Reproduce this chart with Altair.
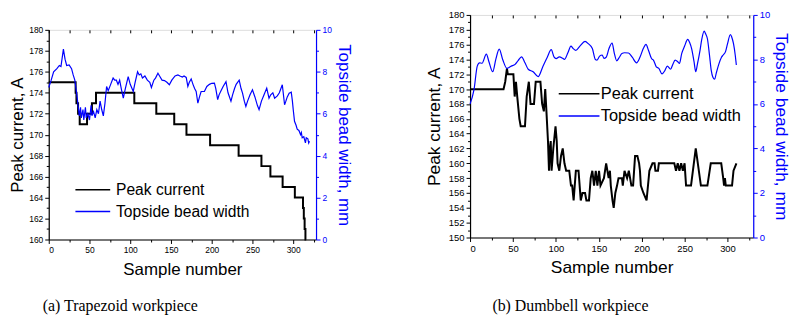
import altair as alt
import pandas as pd

series = ["Peak current", "Topside bead width"]
captions = ["(a) Trapezoid workpiece", "(b) Dumbbell workpiece"]

# ---------- panel (a): (sample, value) ----------
a_cur = [(0, 175), (33, 174), (34, 173), (36, 172), (38, 171), (47, 172), (53, 173), (58, 174),
         (105, 173), (132, 172), (154, 171), (169, 170), (198, 169), (233, 168), (261, 167),
         (272, 166), (287, 165), (302, 164), (312, 163), (313, 162), (314, 161), (315, 160), (316, 160)]

a_wid = [(0, 7.25), (3, 7.6), (6, 8.0), (10, 8.15), (13, 8.3), (15, 8.25), (18, 9.08), (20, 8.6),
         (22, 8.3), (25, 8.33), (28, 8.15), (30, 7.85), (32, 7.6), (34.5, 6.9), (36, 6.4), (37.5, 5.9),
         (39, 6.3), (40, 5.8), (42, 6.2), (43, 5.7), (45, 6.3), (46, 5.8), (48, 6.0), (50, 5.7),
         (52, 6.4), (53, 5.9), (55, 6.1), (57, 5.8), (59, 6.2), (61, 6.0), (63, 6.6), (65, 6.2),
         (67, 5.9), (69, 6.5), (71, 7.3), (73, 7.1), (76, 7.4), (79, 7.7), (81, 7.6), (83, 7.6),
         (85, 7.4), (87, 7.6), (89, 7.2), (91.5, 6.74), (94, 7.2), (97.5, 7.77), (100, 7.4),
         (103.7, 7.06), (106, 7.5), (109, 8.0), (111, 7.85), (113, 7.9), (115, 7.7), (118, 7.8),
         (121, 7.6), (124, 7.5), (126, 7.25), (129, 7.6), (131, 7.7), (134, 7.93), (136, 7.8),
         (139, 7.6), (142, 7.58), (145, 7.5), (148, 7.38), (151, 7.6), (155, 7.8), (158.5, 7.85),
         (161, 7.8), (164, 7.75), (166, 7.8), (168.7, 7.73), (170.7, 7.3), (172.5, 7.5), (174.8, 7.66),
         (177, 7.4), (179, 7.2), (180.9, 7.06), (183, 6.5), (185, 6.8), (187, 7.06), (191, 7.06),
         (194, 7.3), (197.2, 7.4), (200, 7.45), (203.3, 7.46), (205, 7.2), (207.3, 6.67), (209, 6.9),
         (211.4, 7.1), (214, 7.3), (217.5, 7.53), (220, 7.0), (223.6, 6.6), (225.6, 6.9), (228, 7.2),
         (230, 7.4), (233.7, 7.6), (236, 7.2), (237.8, 6.98), (240, 6.6), (241.9, 6.35), (244, 6.6),
         (247, 6.9), (250, 7.14), (253, 6.8), (256, 6.4), (258.1, 6.19), (261, 6.6), (264.2, 6.9),
         (267.5, 7.22), (270.3, 6.74), (272.4, 6.9), (275, 7.0), (277.2, 6.74), (280.5, 6.85),
         (283, 7.0), (286.6, 7.38), (289.4, 6.43), (291, 6.6), (292.7, 6.8), (295, 6.98), (297.6, 7.03),
         (299, 6.6), (300, 6.2), (301.6, 5.64), (303.5, 5.45), (304.9, 5.26), (307, 5.2), (309, 5.0),
         (310, 5.1), (311, 4.85), (313, 4.9), (315, 4.61), (316, 4.85), (318, 4.8), (319, 4.6), (320, 4.69)]

# ---------- panel (b): (sample, value) ----------
b_cur = [(0, 170), (39, 170), (41, 171), (43, 172.8), (44, 172), (50.5, 172), (52, 169), (53.5, 171),
         (55, 169), (57.5, 166), (59, 165), (64, 165), (66, 169), (68.5, 171), (70.5, 168), (74.5, 168),
         (76.5, 171), (82, 171), (84, 168), (86, 167), (87.6, 170), (89, 167), (90.8, 163), (92, 159),
         (93, 162), (94, 163), (95, 159), (97, 162), (99.6, 165), (101, 163), (102, 160), (104, 159),
         (106, 161), (108, 162), (110, 160), (112, 159), (115.6, 159), (117.6, 157), (119, 157),
         (120.7, 155), (123.3, 159), (126.4, 159), (129, 155), (131, 156), (134, 156), (135.6, 155),
         (138.6, 155), (140.6, 158), (142.5, 159), (144.5, 157), (146.5, 159), (148.4, 157),
         (150.3, 159), (152, 157), (156, 158), (158.6, 160), (161.5, 158), (163, 159), (164, 157),
         (166, 155), (167.4, 154), (169.3, 156), (171.3, 157), (173, 158), (177, 158), (178, 157),
         (180, 159), (183, 158), (185, 159), (188, 157), (190, 157), (192.3, 161), (195, 161),
         (197, 160), (198, 159), (199, 157), (202, 156), (205.7, 155), (209, 159), (212.6, 160),
         (215, 160), (216, 159), (219, 159), (220, 160), (238, 160), (240, 159), (242, 160), (244, 159),
         (246, 160), (248, 159), (250, 160), (251.7, 157), (257.5, 157), (263, 162), (269, 157),
         (276.6, 157), (280.5, 160), (292.7, 160), (295, 158), (296, 157), (297, 158), (298, 157),
         (305.3, 157), (307, 159), (310.4, 160)]

b_wid = [(0, 6.0), (4.6, 6.64), (8.4, 7.7), (11, 7.85), (14, 7.83), (19, 8.24), (22, 7.9), (26.4, 7.45),
         (30, 8.0), (34, 8.46), (38, 8.0), (43, 7.6), (48, 7.7), (52.5, 7.78), (56, 7.95), (60, 8.12),
         (64, 7.85), (67.8, 7.56), (73.5, 7.45), (79.3, 7.23), (85, 7.7), (90, 8.1), (94.6, 8.44),
         (98, 8.1), (100.3, 8.04), (104, 8.12), (108, 8.05), (110, 8.0), (114, 8.3), (117.6, 8.6),
         (120, 8.5), (123.3, 8.41), (128, 8.6), (134, 8.81), (138, 8.7), (142.5, 8.49), (146, 8.0),
         (148, 7.97), (151, 8.15), (154, 8.2), (156, 8.05), (158.6, 8.1), (162, 8.5), (165.5, 8.74),
         (168, 8.3), (171, 7.94), (174, 8.1), (177, 8.27), (180, 8.3), (184.6, 8.29), (189, 8.1),
         (194, 7.85), (198, 8.1), (202, 8.5), (205, 8.68), (208, 8.4), (211.5, 8.04), (214, 7.95),
         (217, 7.67), (220, 7.6), (223.7, 7.35), (227, 7.5), (229.9, 7.7), (233.7, 7.56), (236, 7.75),
         (239, 7.97), (242, 7.9), (244, 7.82), (246.7, 8.27), (250, 8.6), (253.6, 8.9), (256, 8.75),
         (258.2, 8.49), (261, 7.9), (263, 7.45), (265, 7.8), (268, 8.41), (270, 8.9), (272.8, 9.27),
         (274.5, 9.15), (276.6, 8.93), (279, 8.2), (281, 7.52), (283, 7.2), (285, 7.11), (287, 7.4),
         (290, 7.8), (293, 8.1), (295, 8.2), (297.7, 8.35), (300, 8.7), (303.4, 9.12), (305, 9.0),
         (307, 8.71), (309, 8.2), (310.3, 7.75)]

BLUE = "#0000ff"
FONT = "Liberation Sans"
SYM = 10  # legend symbol box (px); the stroke path below reaches beyond it


def cond(test, a, b):
    return {"condition": {"test": test, "value": a}, "value": b}


def frame(pairs, name):
    s, v = zip(*pairs)
    return pd.DataFrame({"s": list(s), "v": list(v), "series": name})


def make_panel(cur_pairs, wid_pairs, cur_lo, cur_hi, x_max, W, H, cur_interp, wid_interp,
               leg_x, leg_y, leg_len, leg_gap, leg_font, leg_pad, tick_font, title_font,
               ytp, y2tp, xtp, caption, cap_x, cap_y):
    cur = frame(cur_pairs, series[0])
    wid = frame(wid_pairs, series[1])
    xticks = list(range(0, 326, 25))
    xscale = alt.Scale(domain=[0, x_max], nice=False, zero=False)
    common = dict(grid=False, labelFont=FONT, labelFontSize=tick_font, titleFont=FONT,
                  titleFontSize=title_font, titleFontWeight="normal", labelPadding=2,
                  domainWidth=1.2, tickWidth=1)
    k = leg_len / SYM
    half = leg_len / 2
    color = alt.Color(
        "series:N",
        scale=alt.Scale(domain=series, range=["black", BLUE]),
        legend=alt.Legend(orient="none", legendX=leg_x + half - SYM / 2, legendY=leg_y, title=None,
                          symbolType=f"M-{k:.3f},0H{k:.3f}", symbolSize=SYM ** 2,
                          symbolStrokeWidth=1.5,
                          labelFontSize=leg_font, labelFont=FONT, labelColor="black",
                          labelOffset=half - SYM / 2 + leg_gap, rowPadding=leg_pad, padding=0,
                          labelLimit=400),
    )
    cur_line = alt.Chart(cur).mark_line(interpolate=cur_interp, strokeWidth=2).encode(
        x=alt.X("s:Q", scale=xscale,
                axis=alt.Axis(orient="bottom", values=xticks, title="Sample number",
                              labelExpr="datum.value % 50 === 0 ? datum.label : ''",
                              tickSize=cond("datum.value % 50 === 0", 4, 2.5),
                              domainColor="black", tickColor="black", labelColor="black",
                              titleColor="black", titlePadding=xtp, **common)),
        y=alt.Y("v:Q", scale=alt.Scale(domain=[cur_lo, cur_hi], nice=False, zero=False),
                axis=alt.Axis(orient="left", values=list(range(cur_lo, cur_hi + 1)),
                              title="Peak current, A",
                              labelExpr="datum.value % 2 === 0 ? datum.label : ''",
                              tickSize=cond("datum.value % 2 === 0", 4, 2.5),
                              domainColor="black", tickColor="black", labelColor="black",
                              titleColor="black", titlePadding=ytp, **common)),
        color=color,
    )
    wid_line = alt.Chart(wid).mark_line(interpolate=wid_interp, strokeWidth=1.2).encode(
        x=alt.X("s:Q", scale=xscale,
                axis=alt.Axis(orient="top", values=xticks, labels=False, domain=False, title=None,
                              tickSize=3, offset=-3, tickColor="black", grid=False)),
        y=alt.Y("v:Q", scale=alt.Scale(domain=[0, 10], nice=False, zero=False),
                axis=alt.Axis(orient="right", values=list(range(0, 11)),
                              title="Topside bead width, mm",
                              labelExpr="datum.value % 2 === 0 ? datum.label : ''",
                              tickSize=cond("datum.value % 2 === 0", 4, 2.5),
                              domainColor=BLUE, tickColor=BLUE, labelColor=BLUE,
                              titleColor=BLUE, titlePadding=y2tp, **common)),
        color=color,
    )
    cap = alt.Chart(pd.DataFrame({"t": [caption]})).mark_text(
        font="Liberation Serif", fontSize=16, align="center", baseline="middle", color="black"
    ).encode(text="t:N", x=alt.value(cap_x), y=alt.value(cap_y))
    return (alt.layer(cur_line, wid_line, cap)
            .resolve_scale(y="independent")
            .resolve_axis(x="independent")
            .properties(width=W, height=H))


left = make_panel(a_cur, a_wid, 160, 180, 328, 269, 211, "step-after", "linear",
                  24, 168, 35, 3, 15.7, 5, 8.5, 17, 2, 3, 8, captions[0], 72, 278)
right = make_panel(b_cur, b_wid, 150, 180, 330, 285, 224, "linear", "monotone",
                   86, 71, 41, -2, 16.5, 5.5, 9.5, 17.5, 5, 2, 6, captions[1], 101, 293)

# invisible spacer that lowers panel (a) relative to panel (b)
spacer = alt.Chart(pd.DataFrame({"t": [""]})).mark_text(opacity=0).encode(
    text="t:N").properties(width=1, height=10, view=alt.ViewBackground(strokeOpacity=0))

chart = (alt.hconcat(alt.vconcat(spacer, left, spacing=0), right, spacing=72)
         .resolve_scale(color="independent", x="independent", y="independent")
         .resolve_legend(color="independent")
         .properties(padding={"left": 0, "top": 0, "right": 0, "bottom": 0})
         .configure_view(stroke="black", strokeWidth=1.2)
         .configure(background="white"))

chart.save("out.html", embed_options={"renderer": "svg", "actions": False})
